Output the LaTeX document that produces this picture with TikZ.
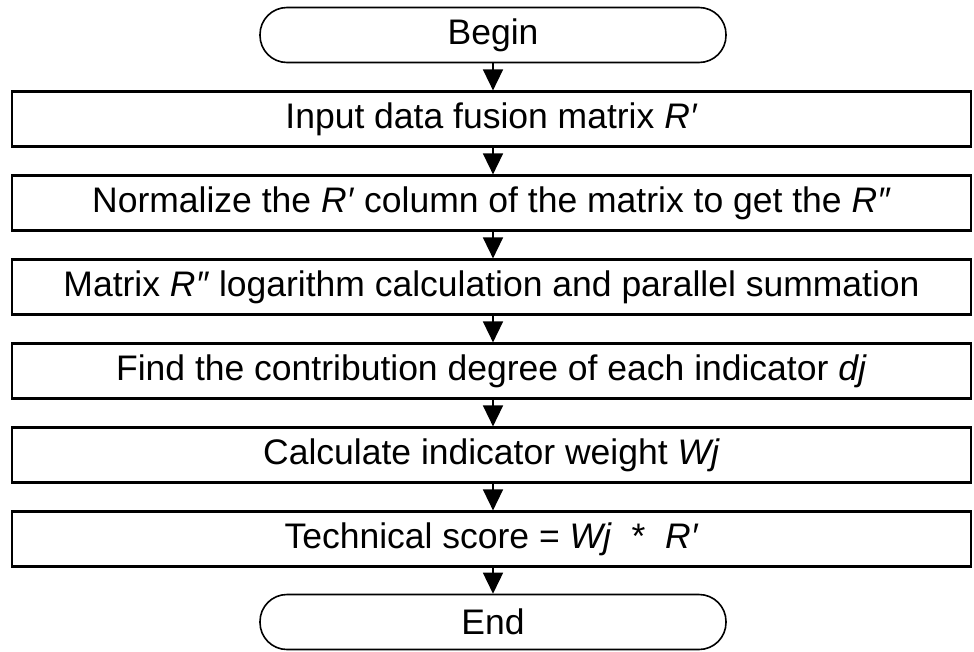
\documentclass[tikz,border=0pt]{standalone}
\usepackage{fontspec}
\setmainfont{Liberation Sans}
\usetikzlibrary{arrows.meta}
\begin{document}
\begin{tikzpicture}[x=1pt,y=-1pt,
  every node/.style={font=\fontsize{35.5}{40}\selectfont, inner sep=0pt},
  stepbox/.style={draw, line width=2.2pt, minimum width=959pt, minimum height=55pt},
  termbox/.style={draw, line width=1.6pt, rounded corners=27pt, minimum width=466pt, minimum height=55pt},
  flow/.style={line width=1.6pt, -{Triangle[length=21pt,width=20pt]}}]
\useasboundingbox (0,0) rectangle (974,651);
\node[termbox] (begin) at (493,35) {Begin};
\node[stepbox] (s1) at (491.5,119) {Input data fusion matrix \textit{R′}};
\node[stepbox] (s2) at (491.5,203) {Normalize the \textit{R′} column of the matrix to get the \textit{R″}};
\node[stepbox] (s3) at (491.5,287) {Matrix \textit{R″} logarithm calculation and parallel summation};
\node[stepbox] (s4) at (491.5,371) {Find the contribution degree of each indicator \textit{dj}};
\node[stepbox] (s5) at (491.5,455) {Calculate indicator weight \textit{Wj}};
\node[stepbox] (s6) at (491.5,539) {Technical score = \textit{Wj}~~*~~\textit{R′}};
\node[termbox] (end) at (493,622) {End};
\draw[flow] (begin.south) -- (begin.south |- s1.north);
\draw[flow] (begin.south |- s1.south) -- (begin.south |- s2.north);
\draw[flow] (begin.south |- s2.south) -- (begin.south |- s3.north);
\draw[flow] (begin.south |- s3.south) -- (begin.south |- s4.north);
\draw[flow] (begin.south |- s4.south) -- (begin.south |- s5.north);
\draw[flow] (begin.south |- s5.south) -- (begin.south |- s6.north);
\draw[flow] (begin.south |- s6.south) -- (end.north);
\end{tikzpicture}
\end{document}
